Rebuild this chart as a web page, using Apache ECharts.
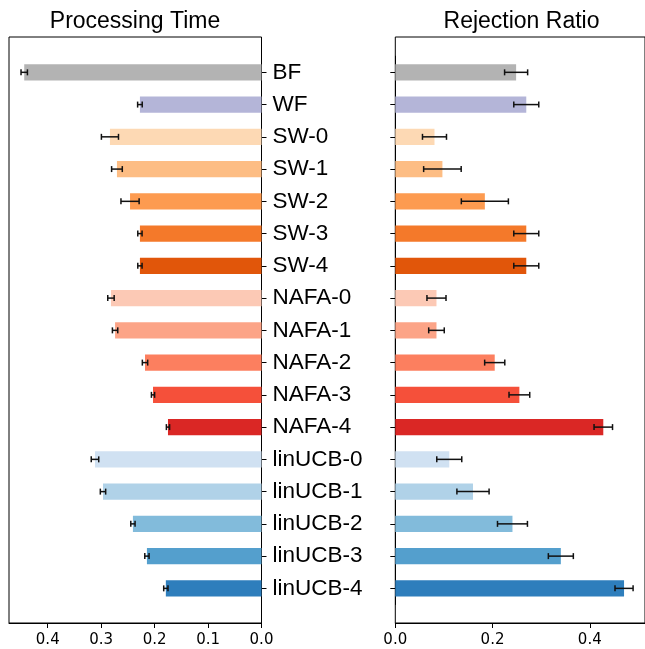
<!DOCTYPE html>
<html>
<head>
<meta charset="utf-8">
<script src="https://cdn.jsdelivr.net/npm/echarts@6/dist/echarts.min.js"></script>
<style>
  html, body { margin: 0; padding: 0; background: #fff; }
  #chart { width: 645px; height: 649px; }
</style>
</head>
<body>
<div id="chart"></div>
<script>
const categories = ['BF', 'WF', 'SW-0', 'SW-1', 'SW-2', 'SW-3', 'SW-4',
  'NAFA-0', 'NAFA-1', 'NAFA-2', 'NAFA-3', 'NAFA-4',
  'linUCB-0', 'linUCB-1', 'linUCB-2', 'linUCB-3', 'linUCB-4'];

const barColors = ['#b3b3b3', '#b4b5d8',
  '#fdd9b4', '#fdbd84', '#fd9b50', '#f4792a', '#e1560a',
  '#fcc9b5', '#fca487', '#fc7f5f', '#f5503a', '#da2725',
  '#d0e1f2', '#b0d2e8', '#82bbdb', '#549fcd', '#2e7ebc'];

// processing time (mean, std)
const timeMean = [0.444, 0.2275, 0.2836, 0.2705, 0.246, 0.2275, 0.2275,
  0.2817, 0.274, 0.218, 0.203, 0.175,
  0.3116, 0.2966, 0.2406, 0.2144, 0.179];
const timeErr = [0.006, 0.0043, 0.016, 0.010, 0.017, 0.004, 0.004,
  0.006, 0.005, 0.005, 0.003, 0.003,
  0.007, 0.005, 0.004, 0.004, 0.004];

// rejection ratio (mean, std)
const rejMean = [0.2485, 0.2694, 0.0806, 0.0969, 0.1842, 0.2694, 0.2694,
  0.0847, 0.0847, 0.2045, 0.2552, 0.4278,
  0.111, 0.1598, 0.241, 0.3405, 0.4705];
const rejErr = [0.0237, 0.0257, 0.0247, 0.0386, 0.0484, 0.0257, 0.0257,
  0.0196, 0.016, 0.0207, 0.0213, 0.019,
  0.0257, 0.0331, 0.0308, 0.0257, 0.0186];

const timeMax = 0.4725;
const rejMax = 0.5136;

const chart = echarts.init(document.getElementById('chart'));

const axisColor = '#000';
const tickFont = { fontFamily: 'DejaVu Sans', fontSize: 15, color: '#000' };

const barData = (vals) => vals.map((v, i) => ({ value: v, itemStyle: { color: barColors[i] } }));
const errData = (vals, errs) => vals.map((v, i) => [v, i, errs[i]]);

const renderErr = (params, api) => {
  const v = api.value(0);
  const i = api.value(1);
  const e = api.value(2);
  const p1 = api.coord([v - e, i]);
  const p2 = api.coord([v + e, i]);
  const h = 3;
  const style = { stroke: '#111', lineWidth: 1.5 };
  return {
    type: 'group',
    children: [
      { type: 'line', shape: { x1: p1[0], y1: p1[1], x2: p2[0], y2: p2[1] }, style },
      { type: 'line', shape: { x1: p1[0], y1: p1[1] - h, x2: p1[0], y2: p1[1] + h }, style },
      { type: 'line', shape: { x1: p2[0], y1: p2[1] - h, x2: p2[0], y2: p2[1] + h }, style }
    ]
  };
};

const frameX = (inverse, max, interval) => ({
  type: 'value',
  inverse,
  min: 0,
  max,
  interval,
  axisLine: { show: true, lineStyle: { color: axisColor, width: 1 } },
  axisTick: { show: true, length: 5, lineStyle: { color: axisColor } },
  axisLabel: Object.assign({ margin: 10, showMaxLabel: false, formatter: v => v.toFixed(1) }, tickFont),
  splitLine: { show: false }
});

const hiddenX = (gridIndex, inverse, max) => ({
  type: 'value', gridIndex, inverse, min: 0, max, show: false
});

const catY = (gridIndex, position, showLabel) => ({
  type: 'category',
  gridIndex,
  data: categories,
  inverse: true,
  position,
  axisLine: { show: true, lineStyle: { color: axisColor, width: 1 } },
  axisTick: { show: true, length: 5, alignWithLabel: true, lineStyle: { color: axisColor } },
  axisLabel: {
    show: showLabel,
    margin: 11,
    fontFamily: 'Liberation Sans',
    fontSize: 22.5,
    color: '#000'
  },
  splitLine: { show: false }
});

const dataTop = 56.2;
const dataH = 548.3;

chart.setOption({
  animation: false,
  backgroundColor: '#fff',
  graphic: [
    { type: 'text', x: 135, y: 22, style: { text: 'Processing Time', font: '23px "Liberation Sans"', textAlign: 'center', textVerticalAlign: 'middle', fill: '#000' } },
    { type: 'text', x: 521.5, y: 22, style: { text: 'Rejection Ratio', font: '23px "Liberation Sans"', textAlign: 'center', textVerticalAlign: 'middle', fill: '#000' } }
  ],
  grid: [
    { left: 9, top: 37, width: 252.5, height: 586, show: true, borderColor: '#000', borderWidth: 1, containLabel: false },
    { left: 9, top: dataTop, width: 252.5, height: dataH, containLabel: false },
    { left: 395.3, top: 37, width: 253, height: 586, show: true, borderColor: '#000', borderWidth: 1, containLabel: false },
    { left: 395.3, top: dataTop, width: 253, height: dataH, containLabel: false }
  ],
  xAxis: [
    Object.assign({ gridIndex: 0 }, frameX(true, timeMax, 0.1)),
    hiddenX(1, true, timeMax),
    Object.assign({ gridIndex: 2 }, frameX(false, rejMax, 0.2)),
    hiddenX(3, false, rejMax)
  ],
  yAxis: [
    { type: 'value', gridIndex: 0, show: false },
    catY(1, 'right', true),
    { type: 'value', gridIndex: 2, show: false },
    catY(3, 'left', false)
  ],
  series: [
    {
      name: 'Processing Time', type: 'bar', xAxisIndex: 1, yAxisIndex: 1,
      barWidth: '50%', data: barData(timeMean), silent: true
    },
    {
      type: 'custom', xAxisIndex: 1, yAxisIndex: 1, z: 5,
      encode: { x: 0, y: 1 }, renderItem: renderErr, data: errData(timeMean, timeErr), silent: true
    },
    {
      name: 'Rejection Ratio', type: 'bar', xAxisIndex: 3, yAxisIndex: 3,
      barWidth: '50%', data: barData(rejMean), silent: true
    },
    {
      type: 'custom', xAxisIndex: 3, yAxisIndex: 3, z: 5,
      encode: { x: 0, y: 1 }, renderItem: renderErr, data: errData(rejMean, rejErr), silent: true
    }
  ]
});
</script>
</body>
</html>
